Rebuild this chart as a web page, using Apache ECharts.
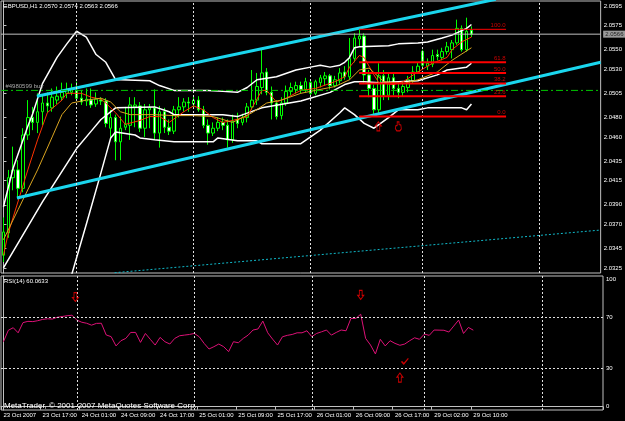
<!DOCTYPE html>
<html><head><meta charset="utf-8">
<script src="https://cdn.jsdelivr.net/npm/echarts@6/dist/echarts.min.js"></script>
<style>html,body{margin:0;padding:0;background:#000;}#c{width:625px;height:421px;}</style>
</head><body><div id="c"></div>
<script>
const symbolName = 'GBPUSD,H1';
const tickLabels = ['23 Oct 2007','23 Oct 17:00','24 Oct 01:00','24 Oct 09:00','24 Oct 17:00','25 Oct 01:00','25 Oct 09:00','25 Oct 17:00','26 Oct 01:00','26 Oct 09:00','26 Oct 17:00','29 Oct 02:00','29 Oct 10:00'];
const tickEvery = 8;
const totalSlots = 123;
const dayStartBars = [15, 39, 63, 86, 110];
const priceTicks = [2.0595, 2.0575, 2.0550, 2.0530, 2.0505, 2.0480, 2.0460, 2.0435, 2.0415, 2.0390, 2.0370, 2.0345, 2.0325];
const rsiTicks = [0, 30, 70, 100];
const rsiLevels = [70, 30];
// [open, close, low, high]
const candles = [
[2.0338,2.0362,2.0331,2.0377],[2.0361,2.0418,2.0356,2.0426],[2.0418,2.0426,2.0405,2.0450],[2.0426,2.0407,2.0397,2.0436],
[2.0407,2.0462,2.0403,2.0469],[2.0462,2.0480,2.0457,2.0498],[2.0480,2.0475,2.0467,2.0491],[2.0475,2.0486,2.0464,2.0505],
[2.0486,2.0495,2.0472,2.0503],[2.0495,2.0492,2.0485,2.0506],[2.0490,2.0501,2.0486,2.0510],[2.0498,2.0502,2.0494,2.0512],
[2.0501,2.0506,2.0497,2.0516],[2.0505,2.0508,2.0500,2.0516],[2.0506,2.0509,2.0503,2.0515],[2.0508,2.0500,2.0498,2.0517],
[2.0500,2.0496,2.0493,2.0508],[2.0497,2.0499,2.0492,2.0510],[2.0498,2.0493,2.0490,2.0510],[2.0494,2.0499,2.0491,2.0506],
[2.0498,2.0497,2.0493,2.0501],[2.0497,2.0474,2.0470,2.0500],[2.0469,2.0480,2.0459,2.0488],[2.0480,2.0455,2.0436,2.0483],
[2.0455,2.0469,2.0436,2.0481],[2.0470,2.0473,2.0467,2.0491],[2.0472,2.0493,2.0457,2.0501],[2.0491,2.0493,2.0470,2.0501],
[2.0492,2.0469,2.0465,2.0496],[2.0469,2.0488,2.0460,2.0494],[2.0488,2.0490,2.0469,2.0494],[2.0490,2.0464,2.0457,2.0509],
[2.0464,2.0486,2.0449,2.0492],[2.0486,2.0470,2.0464,2.0490],[2.0470,2.0466,2.0462,2.0478],[2.0466,2.0488,2.0463,2.0492],
[2.0488,2.0491,2.0480,2.0501],[2.0491,2.0496,2.0486,2.0500],[2.0496,2.0495,2.0486,2.0501],[2.0494,2.0498,2.0490,2.0502],
[2.0498,2.0488,2.0486,2.0502],[2.0488,2.0472,2.0469,2.0492],[2.0472,2.0464,2.0452,2.0478],[2.0464,2.0469,2.0461,2.0475],
[2.0469,2.0475,2.0466,2.0480],[2.0475,2.0472,2.0467,2.0480],[2.0472,2.0457,2.0449,2.0478],[2.0457,2.0476,2.0454,2.0483],
[2.0478,2.0474,2.0469,2.0485],[2.0475,2.0480,2.0472,2.0484],[2.0480,2.0491,2.0475,2.0495],[2.0491,2.0498,2.0488,2.0529],
[2.0498,2.0512,2.0493,2.0526],[2.0511,2.0526,2.0504,2.0550],[2.0527,2.0506,2.0503,2.0531],[2.0506,2.0495,2.0478,2.0512],
[2.0495,2.0481,2.0478,2.0498],[2.0482,2.0495,2.0478,2.0501],[2.0495,2.0507,2.0492,2.0513],[2.0507,2.0511,2.0503,2.0516],
[2.0509,2.0513,2.0505,2.0517],[2.0513,2.0509,2.0505,2.0517],[2.0509,2.0517,2.0506,2.0521],[2.0516,2.0505,2.0502,2.0519],
[2.0505,2.0517,2.0503,2.0519],[2.0516,2.0521,2.0511,2.0524],[2.0520,2.0523,2.0513,2.0527],[2.0523,2.0513,2.0509,2.0525],
[2.0513,2.0519,2.0511,2.0523],[2.0518,2.0526,2.0515,2.0531],[2.0527,2.0522,2.0519,2.0533],[2.0522,2.0541,2.0519,2.0562],
[2.0541,2.0562,2.0537,2.0567],[2.0561,2.0564,2.0553,2.0571],[2.0564,2.0524,2.0516,2.0567],[2.0524,2.0510,2.0501,2.0529],
[2.0510,2.0488,2.0481,2.0514],[2.0488,2.0523,2.0484,2.0536],[2.0523,2.0503,2.0498,2.0529],[2.0503,2.0521,2.0498,2.0527],
[2.0521,2.0510,2.0503,2.0527],[2.0510,2.0506,2.0500,2.0517],[2.0506,2.0512,2.0502,2.0517],[2.0511,2.0519,2.0506,2.0523],
[2.0518,2.0527,2.0515,2.0533],[2.0527,2.0533,2.0525,2.0537],[2.0548,2.0534,2.0531,2.0550],[2.0533,2.0536,2.0529,2.0541],
[2.0535,2.0544,2.0532,2.0550],[2.0545,2.0543,2.0539,2.0550],[2.0542,2.0548,2.0539,2.0552],[2.0548,2.0553,2.0545,2.0558],
[2.0550,2.0557,2.0541,2.0560],[2.0557,2.0572,2.0555,2.0581],[2.0572,2.0550,2.0548,2.0575],[2.0550,2.0569,2.0548,2.0583],
[2.0570,2.0566,2.0563,2.0574]
];
const rsi = [51,60,62,58,66,67,66.8,67.5,68.5,69,68.8,70.2,70.8,71.4,71.8,68,66.3,65.5,64,65.4,
65.5,56.3,55,47.7,51.8,53.6,58.3,58.3,50.5,57.5,52.9,48.4,54.4,51,49.2,53.6,55.7,56.2,56.7,57.5,
54.9,49.7,45.3,47.1,49.2,47.1,43.2,51,50.2,53.6,56.2,60.2,61,67.2,58,53,48.4,54.9,56,56.7,
58,58,59.6,55,57.5,58.8,60.2,56.2,58.3,60.2,59.6,69.3,69.3,72.6,53.6,48.4,41.4,52.9,47.7,51.8,
49.7,48.2,49.2,51.8,54.1,52.9,57,56,60.2,60.1,60,58.6,63.3,68,57.5,62.2,60.0633];
const bbUpper = [[0,2.0388],[2,2.0428],[5,2.0471],[6,2.0484],[8,2.0515],[11,2.0542],[13,2.0556],[15,2.0569],[17,2.0563],[19,2.0545],[21,2.0537],[23,2.0519],[24,2.0519],[30,2.0518],[32,2.0513],[35,2.0508],[42,2.0508],[45,2.0507],[48,2.0506],[50,2.0511],[52,2.0519],[56,2.0522],[60,2.0529],[63,2.0532],[65,2.0534],[67,2.0532],[69,2.0534],[70,2.0537],[71,2.0542],[72,2.0552],[73,2.0553],[79,2.0554],[81,2.0556],[85,2.0557],[87,2.0558],[90,2.0562],[92,2.0565],[95,2.0572],[96,2.0576]];
const bbMiddle = [[0,2.0325],[8,2.0393],[15,2.0448],[18,2.0466],[20,2.0478],[23,2.0490],[31,2.0491],[34,2.0486],[35,2.0483],[45,2.0483],[48,2.0481],[53,2.0490],[61,2.0497],[67,2.0506],[70,2.0514],[72,2.0517],[74,2.0517],[77,2.0516],[81,2.0517],[85,2.0518],[89,2.0524],[91,2.0529],[95,2.0532],[96,2.0536]];
const bbLower = [[12,2.0271],[14,2.0318],[17,2.0370],[20,2.0423],[22,2.0459],[23,2.0465],[27,2.0462],[28,2.0459],[31,2.0457],[35,2.0455],[43,2.0455],[44,2.0459],[48,2.0456],[52,2.0456],[53,2.0453],[61,2.0453],[63,2.0460],[65,2.0467],[69,2.0485],[70,2.0490],[72,2.0483],[74,2.0474],[76,2.0469],[79,2.0480],[81,2.0488],[85,2.0488],[87,2.0490],[94,2.0490],[95,2.0488],[96,2.0494]];
const maFast = [[0,2.0338],[1,2.0361],[5,2.0426],[7,2.0457],[9,2.0485],[12,2.0498],[13,2.0505],[16,2.0505],[18,2.0501],[20,2.0499],[21,2.0495],[23,2.0485],[25,2.0473],[28,2.0477],[30,2.0481],[32,2.0481],[34,2.0475],[37,2.0486],[39,2.0492],[41,2.0488],[43,2.0480],[45,2.0475],[47,2.0477],[50,2.0481],[53,2.0508],[54,2.0508],[56,2.0496],[58,2.0500],[61,2.0508],[64,2.0510],[68,2.0517],[70,2.0522],[71,2.0532],[73,2.0544],[74,2.0542],[76,2.0524],[77,2.0516],[80,2.0514],[82,2.0517],[85,2.0527],[88,2.0536],[91,2.0542],[92,2.0550],[94,2.0558],[96,2.0563]];
const maSlow = [[0,2.0354],[3,2.0385],[7,2.0426],[10,2.0460],[12,2.0483],[14,2.0495],[17,2.0498],[20,2.0500],[22,2.0496],[24,2.0486],[26,2.0483],[31,2.0483],[35,2.0482],[39,2.0482],[43,2.0481],[47,2.0475],[51,2.0485],[54,2.0495],[57,2.0498],[61,2.0505],[64,2.0508],[68,2.0512],[71,2.0519],[73,2.0529],[75,2.0531],[78,2.0517],[82,2.0515],[85,2.0519],[89,2.0527],[92,2.0539],[96,2.0552]];
const channelUpper = [[6.86,2.0502],[101,2.0602]];
const channelLower = [[2.77,2.0397],[122.5,2.0537]];
const channelFar = [[22.8,2.0320],[122.5,2.0364]];
const fibLabels = ['100.0','61.8','50.0','38.2','23.6','0.0'];
const fibPrices = [2.0571, 2.0537, 2.0526, 2.0515, 2.0502, 2.0481];
const fibStart = 72.96, fibEnd = 103.1;
const bidPrice = 2.0566;
const orderPrice = 2.0508;
const orderText = '#4980599 buy';
const rsiText = 'RSI(14) 60.0633';
const copyright = 'MetaTrader, \u00a9 2001-2007 MetaQuotes Software Corp.';
// annotation marks: kind = up / down / check / hand
const priceMarks = [{x:76.9, y:2.0471, kind:'up'}, {x:81.0, y:2.0471, kind:'hand'}];
const rsiMarks = [{x:14.7, y:86.1, kind:'down'}, {x:73.0, y:87.7, kind:'down'}, {x:82.0, y:35.5, kind:'check'}, {x:81.0, y:22.9, kind:'up'}];

const last = candles[candles.length - 1];
const titleText = symbolName + ' ' + [last[0], last[3], last[2], last[1]].map(v => v.toFixed(4)).join(' ');
const cats = Array.from({length: totalSlots}, (_, i) => String(i));
function labelAt(i) { return (i % tickEvery === 0 && i / tickEvery < tickLabels.length) ? tickLabels[i / tickEvery] : ''; }
const FONT = 'Liberation Sans';
const grey = '#c0c0c0';
const xLo = -0.5, xHi = totalSlots - 0.5;

const ARROW = 'path://M3,0 L6,4 L4.4,4 L4.4,9 L1.6,9 L1.6,4 L0,4 Z';
const CHECK = 'path://M0,5 L1.6,3.8 L3.4,6 L8,0 L9,1 L3.4,9 Z';
const HAND = 'path://M2,0 L4,0 L4,3 L6,3.5 L6.5,8 L5,10 L1.5,10 L0,7.5 L0.5,4.5 L2,4 Z';
function markItem(m) {
  const base = {value: [m.x, m.y]};
  if (m.kind === 'up') return Object.assign(base, {symbol: ARROW, symbolSize: [6, 9], symbolRotate: 0,
    itemStyle: {color: 'rgba(0,0,0,0)', borderColor: '#ff0000', borderWidth: 1}});
  if (m.kind === 'down') return Object.assign(base, {symbol: ARROW, symbolSize: [6, 9], symbolRotate: 180,
    itemStyle: {color: 'rgba(0,0,0,0)', borderColor: '#ff0000', borderWidth: 1}});
  if (m.kind === 'check') return Object.assign(base, {symbol: CHECK, symbolSize: [8, 7],
    itemStyle: {color: '#ff0000', borderWidth: 0}});
  return Object.assign(base, {symbol: HAND, symbolSize: [6, 9],
    itemStyle: {color: 'rgba(0,0,0,0)', borderColor: '#ff0000', borderWidth: 1}});
}

function mainLine(name, data, color, width, type, z) {
  return {name, type: 'line', xAxisIndex: 1, yAxisIndex: 0, data, showSymbol: false, z, clip: true,
    lineStyle: {color, width, type: type || 'solid'}};
}
const fibSeries = fibPrices.map((p, k) => mainLine('fib' + k, [[fibStart, p], [fibEnd, p]], '#ff0000', k === 0 ? 1 : 2, 'solid', 5));

const chart = echarts.init(document.getElementById('c'), null, {renderer: 'canvas'});
chart.setOption({
  animation: false,
  backgroundColor: '#000000',
  grid: [
    {left: 1, top: 1, width: 602, height: 272, show: true, borderColor: grey, borderWidth: 1, backgroundColor: 'transparent'},
    {left: 1, top: 276, width: 602, height: 134, show: true, borderColor: grey, borderWidth: 1, backgroundColor: 'transparent'}
  ],
  xAxis: [
    {type: 'category', gridIndex: 0, data: cats, boundaryGap: true, show: false},
    {type: 'value', gridIndex: 0, min: xLo, max: xHi, show: false, position: 'top'},
    {type: 'category', gridIndex: 1, data: cats, boundaryGap: true, position: 'bottom',
     axisLine: {show: true, lineStyle: {color: grey}},
     axisTick: {show: true, interval: (i) => labelAt(i) !== '', length: 3, lineStyle: {color: grey}},
     axisLabel: {show: true, interval: (i) => labelAt(i) !== '', formatter: (v, i) => labelAt(+v), align: 'left', color: '#ffffff', fontSize: 6, fontFamily: FONT, margin: 2},
     splitLine: {show: false}},
    {type: 'value', gridIndex: 1, min: xLo, max: xHi, show: false, position: 'top'}
  ],
  yAxis: [
    {type: 'value', gridIndex: 0, position: 'right', min: 2.03197, max: 2.06002, scale: true,
     axisLine: {show: true, lineStyle: {color: grey}},
     axisTick: {show: true, length: 3, customValues: priceTicks, lineStyle: {color: grey}},
     axisLabel: {show: true, customValues: priceTicks, formatter: v => v.toFixed(4), color: '#ffffff', fontSize: 6, fontFamily: FONT, margin: 3},
     splitLine: {show: false}},
    {type: 'value', gridIndex: 1, position: 'right', min: -2.6, max: 102.6,
     axisLine: {show: true, lineStyle: {color: grey}},
     axisTick: {show: true, length: 3, customValues: rsiTicks, lineStyle: {color: grey}},
     axisLabel: {show: true, customValues: rsiTicks, formatter: v => String(Math.round(v)), color: '#ffffff', fontSize: 6, fontFamily: FONT, margin: 3},
     splitLine: {show: false}}
  ],
  graphic: [
    {type: 'text', x: 3, y: 6, z: 100, style: {text: titleText, fill: '#ffffff', fontSize: 6, fontFamily: FONT, verticalAlign: 'middle'}},
    {type: 'text', x: 4, y: 281.5, z: 100, style: {text: rsiText, fill: '#ffffff', fontSize: 6, fontFamily: FONT, verticalAlign: 'middle'}},
    {type: 'text', x: 4, y: 406, z: 100, style: {text: copyright, fill: '#ffffff', fontSize: 8, fontFamily: FONT, verticalAlign: 'middle'}}
  ],
  series: [
    {name: 'grid', type: 'line', xAxisIndex: 1, yAxisIndex: 0, data: [], showSymbol: false, z: 1,
     markLine: {silent: true, symbol: ['none', 'none'], label: {show: false},
       lineStyle: {color: '#e0e0e0', type: [2, 2], width: 1},
       data: dayStartBars.map(v => ({xAxis: v}))}},
    {name: 'price', type: 'candlestick', xAxisIndex: 0, yAxisIndex: 0, data: candles, barWidth: 3, z: 2,
     itemStyle: {color: '#000000', color0: '#ffffff', borderColor: '#00ff00', borderColor0: '#00ff00', borderWidth: 1}},
    mainLine('bbU', bbUpper, '#ffffff', 1.5, 'solid', 3),
    mainLine('bbM', bbMiddle, '#ffffff', 1.5, 'solid', 3),
    mainLine('bbL', bbLower, '#ffffff', 1.5, 'solid', 3),
    mainLine('maFast', maFast, '#ff3300', 1, 'solid', 3),
    mainLine('maSlow', maSlow, '#daa520', 1, 'solid', 3),
    mainLine('chU', channelUpper, '#1ad6ee', 3, 'solid', 4),
    mainLine('chL', channelLower, '#1ad6ee', 3, 'solid', 4),
    mainLine('chF', channelFar, '#10b8c8', 1, [2, 2], 4),
    mainLine('bid', [[xLo, bidPrice], [xHi, bidPrice]], grey, 1, 'solid', 4),
    mainLine('order', [[xLo, orderPrice], [xHi, orderPrice]], '#00c800', 1, [7, 3, 2, 3], 4),
    ...fibSeries,
    {name: 'texts', type: 'scatter', xAxisIndex: 1, yAxisIndex: 0, z: 6, symbolSize: 1, clip: false,
     itemStyle: {color: 'rgba(0,0,0,0)'},
     data: fibPrices.map((p, k) => ({value: [fibEnd, p], name: fibLabels[k],
        label: {show: true, position: 'left', offset: [1, -4], distance: 1, color: '#ff0000', fontSize: 6, fontFamily: FONT}}))
       .concat([
        {value: [0.3, orderPrice], name: orderText,
         label: {show: true, position: 'right', offset: [0, -4], distance: 0, color: '#d0d0d0', fontSize: 6, fontFamily: FONT}},
        {value: [xHi, bidPrice], name: bidPrice.toFixed(4),
         label: {show: true, position: 'right', distance: 2, color: '#000000', backgroundColor: grey, padding: [1, 2, 0, 2], fontSize: 6, fontFamily: FONT}}
       ]),
     label: {show: true, formatter: '{b}'}},
    {name: 'marks', type: 'scatter', xAxisIndex: 1, yAxisIndex: 0, z: 6,
     data: priceMarks.map(markItem)},
    {name: 'RSI', type: 'line', xAxisIndex: 2, yAxisIndex: 1, data: rsi, showSymbol: false, z: 3,
     lineStyle: {color: '#dd1177', width: 1},
     markLine: {silent: true, symbol: ['none', 'none'], label: {show: false},
       lineStyle: {color: '#e0e0e0', type: [2, 2], width: 1},
       data: rsiLevels.map(v => ({yAxis: v})).concat(dayStartBars.map(v => ({xAxis: v})))}},
    {name: 'rsiMarks', type: 'scatter', xAxisIndex: 3, yAxisIndex: 1, z: 6,
     data: rsiMarks.map(markItem)}
  ]
});
</script>
</body></html>
